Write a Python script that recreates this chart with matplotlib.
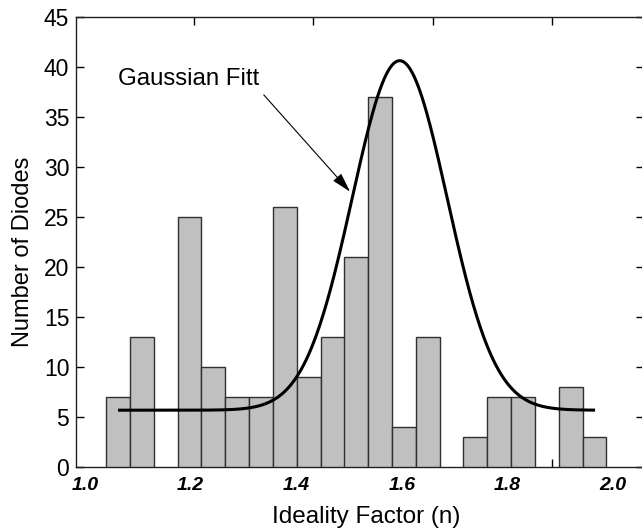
import numpy as np
import matplotlib
matplotlib.use("Agg")
import matplotlib.pyplot as plt

plt.rcParams['font.family'] = ['Liberation Sans', 'DejaVu Sans']

# ---- data ----
bin_centers = [1.063, 1.108, 1.198, 1.243, 1.288, 1.333, 1.379, 1.424, 1.469,
               1.514, 1.559, 1.604, 1.649, 1.739, 1.784, 1.829, 1.920, 1.965]
counts = [7, 13, 25, 10, 7, 7, 26, 9, 13, 21, 37, 4, 13, 3, 7, 7, 8, 3]
bin_width = 0.0451

# Gaussian fit parameters
fit_base = 5.65
fit_amp = 34.95
fit_center = 1.596
fit_sigma = 0.090
fit_range = (1.0625, 1.966)

x_tick_values = [1.0, 1.2, 1.4, 1.6, 1.8, 2.0]
x_tick_labels = ["1.0", "1.2", "1.4", "1.6", "1.8", "2.0"]
axis_tick_marks = [1.2064, 1.4318, 1.6591, 1.8845]   # tick marks of the frame
y_ticks = [0, 5, 10, 15, 20, 25, 30, 35, 40, 45]

# pixel layout of the frame
fig_w, fig_h = 642, 532
left_px, right_px, top_px, bottom_px = 76, 644, 16.7, 466.7

fig = plt.figure(figsize=(fig_w / 100, fig_h / 100), dpi=100)
ax = fig.add_axes([left_px / fig_w, 1 - bottom_px / fig_h,
                   (right_px - left_px) / fig_w, (bottom_px - top_px) / fig_h])

ax.bar(bin_centers, counts, width=bin_width, color='#c0c0c0',
       edgecolor='#303030', linewidth=1.0, zorder=3)

xf = np.linspace(fit_range[0], fit_range[1], 400)
yf = fit_base + fit_amp * np.exp(-(xf - fit_center) ** 2 / (2 * fit_sigma ** 2))
ax.plot(xf, yf, color='black', lw=2.2, zorder=4, solid_capstyle='butt')

px_per_unit = 528.0
x_at_85 = 1.0
ax.set_xlim(x_at_85 + (left_px - 85) / px_per_unit,
            x_at_85 + (right_px - 85) / px_per_unit)
ax.set_ylim(0, 45)

# y axis
ax.set_yticks(y_ticks)
ax.set_yticklabels([str(v) for v in y_ticks], fontsize=16.5)
ax.tick_params(axis='y', direction='in', length=6, width=1, pad=4.8,
               left=True, right=True, labelright=False)

# x axis: frame tick marks (major, unlabeled) + labels (minor, no marks)
ax.set_xticks(axis_tick_marks)
ax.set_xticklabels([])
ax.set_xticks(x_tick_values, minor=True)
ax.set_xticklabels(x_tick_labels, minor=True, fontsize=14,
                   fontweight='bold', fontstyle='italic')
ax.tick_params(axis='x', which='major', direction='in', length=6, width=1,
               top=True, bottom=True)
ax.tick_params(axis='x', which='minor', direction='in', length=0, pad=7.5,
               top=False, bottom=True)

ax.spines['right'].set_visible(False)
for s in ['left', 'bottom', 'top']:
    ax.spines[s].set_linewidth(1.0)
    ax.spines[s].set_color('#202020')

ax.set_xlabel('Ideality Factor (n)', fontsize=17.5)
ax.xaxis.label.set_va('baseline')
ax.xaxis.set_label_coords((366 - left_px) / (right_px - left_px),
                          (bottom_px - 523.4) / (bottom_px - top_px))

ax.set_ylabel('Number of Diodes', fontsize=17)
ax.yaxis.label.set_va('center')
ax.yaxis.set_label_coords((23.3 - left_px) / (right_px - left_px),
                          (bottom_px - 251.5) / (bottom_px - top_px))

ax.annotate('Gaussian Fitt', xy=(1.502, 27.5), xytext=(1.0631, 38.17),
            fontsize=17.3, va='baseline', ha='left',
            arrowprops=dict(arrowstyle='-|>,head_length=0.8,head_width=0.22',
                            color='black', lw=0.8, mutation_scale=15,
                            shrinkA=2, shrinkB=0, relpos=(1.0, 0.0)))

fig.savefig('out.png', dpi=100)
